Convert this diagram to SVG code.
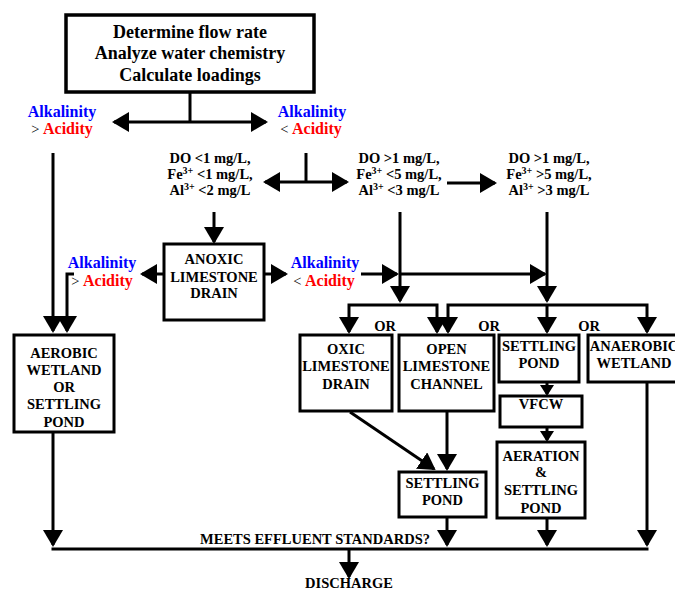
<svg xmlns="http://www.w3.org/2000/svg" width="675" height="591" viewBox="0 0 675 591">
<defs>
<style>
.box{fill:#fff;stroke:#000;stroke-width:3}
.t{font-family:"Liberation Serif","Times New Roman",serif;font-weight:bold;font-size:14.5px;text-anchor:middle;fill:#000}
.big{font-size:18px}
.alk{font-size:16px;fill:#0000ff}
.acid{fill:#ff0000}
.op{font-weight:normal;fill:#000}
.sup{font-size:10px}
.c{fill:none;stroke:#000;stroke-width:3}
.a{marker-end:url(#ah)}
.aa{marker-start:url(#ah);marker-end:url(#ah)}
.s{marker-end:url(#sh)}
</style>
<marker id="ah" viewBox="0 0 17 20" refX="15" refY="10" markerWidth="17" markerHeight="20" markerUnits="userSpaceOnUse" orient="auto-start-reverse"><path d="M0,0 L17,10 L0,20 z" fill="#000"/></marker>
<marker id="sh" viewBox="0 0 11 14" refX="9" refY="7" markerWidth="11" markerHeight="14" markerUnits="userSpaceOnUse" orient="auto"><path d="M0,0 L11,7 L0,14 z" fill="#000"/></marker>
</defs>
<rect width="675" height="591" fill="#fff"/>

<g id="connectors">
<path class="c" d="M190,92 V122"/>
<path class="c aa" d="M114,122 H266"/>
<path class="c a" d="M53,153 V331"/>
<path class="c" d="M306,153 V182"/>
<path class="c aa" d="M265,182 H347"/>
<path class="c a" d="M447,183 H495"/>
<path class="c a" d="M214,212 V242"/>
<path class="c a" d="M164,274 H142"/>
<path class="c a" d="M74,274 H67 V331"/>
<path class="c a" d="M264,274 H286"/>
<path class="c a" d="M361,274 H397"/>
<path class="c a" d="M399,274 H545"/>
<path class="c a" d="M400,212 V301"/>
<path class="c a" d="M547,212 V301"/>
<path class="c aa" d="M349,332 V305 H437 V332"/>
<path class="c aa" d="M448,332 V305 H647 V332"/>
<path class="c a" d="M547,305 V332"/>
<path class="c s" d="M547,382 V394"/>
<path class="c s" d="M547,427 V440"/>
<path class="c a" d="M350,412 L434,469"/>
<path class="c a" d="M447,411 V469"/>
<path class="c" d="M51.5,549 H648.5"/>
<path class="c a" d="M53,433 V545"/>
<path class="c a" d="M447,517 V545"/>
<path class="c a" d="M547,518 V545"/>
<path class="c a" d="M647,382 V545"/>
<path class="c a" d="M349,549 V577"/>
</g>

<g id="start">
<rect class="box" x="66" y="15" width="248" height="77" style="stroke-width:3.5"/>
<text class="t big" x="190" y="37.5">Determine flow rate</text>
<text class="t big" x="190" y="59">Analyze water chemistry</text>
<text class="t big" x="190" y="80.5">Calculate loadings</text>
</g>

<g id="cond-alk-gt-1">
<text class="t alk" x="62" y="117">Alkalinity</text>
<text class="t" x="62" y="134"><tspan class="op">&gt; </tspan><tspan class="acid" style="font-size:16px">Acidity</tspan></text>
</g>
<g id="cond-alk-lt-1">
<text class="t alk" x="312" y="117">Alkalinity</text>
<text class="t" x="311" y="134"><tspan class="op">&lt; </tspan><tspan class="acid" style="font-size:16px">Acidity</tspan></text>
</g>

<g id="cond-do-1">
<text class="t" x="210" y="163">DO &lt;1 mg/L,</text>
<text class="t" x="210" y="179">Fe<tspan class="sup" dy="-5">3+</tspan><tspan dy="5"> &lt;1 mg/L,</tspan></text>
<text class="t" x="210" y="195">Al<tspan class="sup" dy="-5">3+</tspan><tspan dy="5"> &lt;2 mg/L</tspan></text>
</g>
<g id="cond-do-2">
<text class="t" x="399" y="163">DO &gt;1 mg/L,</text>
<text class="t" x="399" y="179">Fe<tspan class="sup" dy="-5">3+</tspan><tspan dy="5"> &lt;5 mg/L,</tspan></text>
<text class="t" x="399" y="195">Al<tspan class="sup" dy="-5">3+</tspan><tspan dy="5"> &lt;3 mg/L</tspan></text>
</g>
<g id="cond-do-3">
<text class="t" x="549" y="163">DO &gt;1 mg/L,</text>
<text class="t" x="549" y="179">Fe<tspan class="sup" dy="-5">3+</tspan><tspan dy="5"> &gt;5 mg/L,</tspan></text>
<text class="t" x="549" y="195">Al<tspan class="sup" dy="-5">3+</tspan><tspan dy="5"> &gt;3 mg/L</tspan></text>
</g>

<g id="anoxic-limestone-drain">
<rect class="box" x="164" y="244" width="100" height="76"/>
<text class="t" x="214" y="264">ANOXIC</text>
<text class="t" x="214" y="282">LIMESTONE</text>
<text class="t" x="214" y="298">DRAIN</text>
</g>

<g id="cond-alk-gt-2">
<text class="t alk" x="102" y="268">Alkalinity</text>
<text class="t" x="102" y="286"><tspan class="op">&gt; </tspan><tspan class="acid" style="font-size:16px">Acidity</tspan></text>
</g>
<g id="cond-alk-lt-2">
<text class="t alk" x="325" y="268">Alkalinity</text>
<text class="t" x="324" y="286"><tspan class="op">&lt; </tspan><tspan class="acid" style="font-size:16px">Acidity</tspan></text>
</g>

<g id="aerobic-wetland">
<rect class="box" x="14" y="335" width="100" height="97"/>
<text class="t" x="64" y="358">AEROBIC</text>
<text class="t" x="64" y="375">WETLAND</text>
<text class="t" x="64" y="392">OR</text>
<text class="t" x="64" y="409">SETTLING</text>
<text class="t" x="64" y="427">POND</text>
</g>

<g id="or-labels">
<text class="t" x="385" y="331">OR</text>
<text class="t" x="489" y="331">OR</text>
<text class="t" x="589" y="331">OR</text>
</g>

<g id="oxic-limestone-drain">
<rect class="box" x="300" y="335" width="92" height="76"/>
<text class="t" x="346" y="354">OXIC</text>
<text class="t" x="346" y="371">LIMESTONE</text>
<text class="t" x="346" y="389">DRAIN</text>
</g>

<g id="open-limestone-channel">
<rect class="box" x="399" y="335" width="95" height="76"/>
<text class="t" x="446.5" y="354">OPEN</text>
<text class="t" x="446.5" y="371">LIMESTONE</text>
<text class="t" x="446.5" y="389">CHANNEL</text>
</g>

<g id="settling-pond-1">
<rect class="box" x="499" y="335" width="80" height="47"/>
<text class="t" x="539" y="351">SETTLING</text>
<text class="t" x="539" y="368">POND</text>
</g>

<g id="anaerobic-wetland">
<rect class="box" x="588" y="335" width="92" height="47"/>
<text class="t" x="634" y="351">ANAEROBIC</text>
<text class="t" x="634" y="368">WETLAND</text>
</g>

<g id="vfcw">
<rect class="box" x="500" y="396" width="82" height="31"/>
<text class="t" x="541" y="409">VFCW</text>
</g>

<g id="aeration-settling-pond">
<rect class="box" x="497" y="442" width="88" height="76"/>
<text class="t" x="541" y="461">AERATION</text>
<text class="t" x="541" y="477">&amp;</text>
<text class="t" x="541" y="495">SETTLING</text>
<text class="t" x="541" y="513">POND</text>
</g>

<g id="settling-pond-2">
<rect class="box" x="399" y="472" width="87" height="45"/>
<text class="t" x="442.5" y="488">SETTLING</text>
<text class="t" x="442.5" y="505">POND</text>
</g>

<g id="meets-standards">
<text class="t" x="315" y="544">MEETS EFFLUENT STANDARDS?</text>
</g>

<g id="discharge">
<text class="t" x="349" y="588">DISCHARGE</text>
</g>
</svg>
